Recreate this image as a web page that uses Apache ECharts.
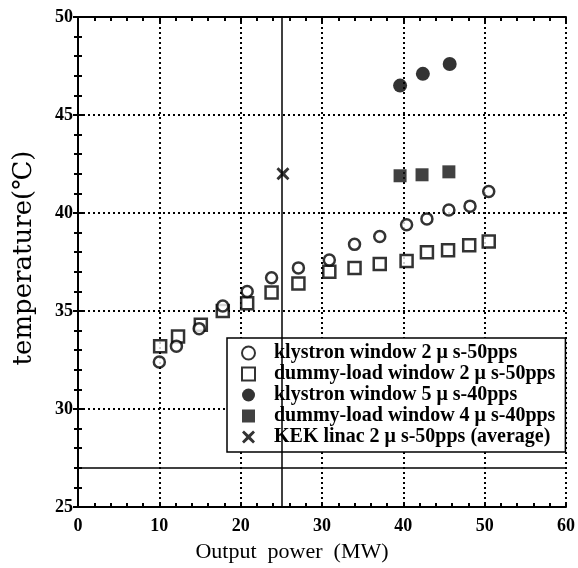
<!DOCTYPE html>
<html>
<head>
<meta charset="utf-8">
<script src="https://cdn.jsdelivr.net/npm/echarts@6/dist/echarts.min.js"></script>
<style>
  html, body { margin: 0; padding: 0; background: #fff; }
  #chart { width: 578px; height: 568px; }
</style>
</head>
<body>
<div id="chart"></div>
<script>
// klystron window 2us-50pps (open circles)
var k2x = [10.0, 12.1, 14.9, 17.8, 20.8, 23.8, 27.1, 30.9, 34.0, 37.1, 40.4, 42.9, 45.6, 48.2, 50.5]
var k2y = [32.4, 33.2, 34.1, 35.25, 36.0, 36.7, 37.2, 37.6, 38.4, 38.8, 39.4, 39.7, 40.15, 40.35, 41.1]
// dummy-load window 2us-50pps (open squares)
var d2x = [10.1, 12.3, 15.1, 17.8, 20.8, 23.8, 27.1, 30.9, 34.0, 37.1, 40.4, 42.9, 45.5, 48.1, 50.5]
var d2y = [33.2, 33.7, 34.3, 35.0, 35.4, 35.95, 36.4, 37.0, 37.2, 37.4, 37.55, 38.0, 38.1, 38.35, 38.55]
// klystron window 5us-40pps (filled circles)
var k5x = [39.6, 42.4, 45.7]
var k5y = [46.5, 47.1, 47.6]
// dummy-load window 4us-40pps (filled squares)
var d4x = [39.6, 42.3, 45.6]
var d4y = [41.9, 41.95, 42.1]
// KEK linac average
var kekX = [25.2]
var kekY = [42.0]
// solid reference lines
var refX = 25
var refY = 27

var names = [
  'klystron window 2 μ s-50pps',
  'dummy-load window 2 μ s-50pps',
  'klystron window 5 μ s-40pps',
  'dummy-load window 4 μ s-40pps',
  'KEK linac 2 μ s-50pps (average)'
]

function pairs(xs, ys) {
  return xs.map(function (x, i) { return [x, ys[i]] })
}

var serif = 'Liberation Serif, Times New Roman, serif'
var crossPath = 'path://M1.5,0 L5,3.3 L8.5,0 L10,1.5 L6.7,5 L10,8.5 L8.5,10 L5,6.7 L1.5,10 L0,8.5 L3.3,5 L0,1.5 Z'

var chart = echarts.init(document.getElementById('chart'))

var baseX = {
  type: 'value', min: 0, max: 60, interval: 10,
  axisLine: { show: true, lineStyle: { color: '#000', width: 2 } },
  axisTick: { show: true, inside: true, length: 5, lineStyle: { color: '#000', width: 2 } },
  minorTick: { show: true, splitNumber: 5, length: 4, lineStyle: { color: '#000', width: 2 } },
  splitLine: { show: false },
  axisLabel: { show: false }
}
var baseY = {
  type: 'value', min: 25, max: 50, interval: 5,
  axisLine: { show: true, lineStyle: { color: '#000', width: 2 } },
  axisTick: { show: true, inside: true, length: 5, lineStyle: { color: '#000', width: 2 } },
  minorTick: { show: true, splitNumber: 5, length: 4, lineStyle: { color: '#000', width: 2 } },
  splitLine: { show: false },
  axisLabel: { show: false }
}

var option = {
  backgroundColor: '#fff',
  animation: false,
  grid: { left: 78, right: 9, top: 17, bottom: 61 },
  legend: {
    orient: 'vertical',
    left: 227, top: 338,
    padding: [5, 10, 5, 14],
    itemGap: 1,
    itemWidth: 13, itemHeight: 13,
    backgroundColor: '#fff',
    borderColor: '#000', borderWidth: 1.5,
    textStyle: { fontFamily: serif, fontSize: 20, fontWeight: 'bold', color: '#000', padding: [0, 0, 0, 14] },
    data: names
  },
  xAxis: [
    Object.assign({}, baseX, {
      position: 'bottom',
      name: 'Output  power  (MW)',
      nameLocation: 'middle',
      nameGap: 34,
      nameTextStyle: { fontFamily: serif, fontSize: 22, color: '#000', padding: [0, 60, 0, 0] },
      splitLine: { show: true, lineStyle: { color: '#000', width: 2, type: [2, 3] } },
      axisLabel: { show: true, fontFamily: serif, fontSize: 18, fontWeight: 'bold', color: '#000', margin: 10 }
    }),
    Object.assign({}, baseX, { position: 'top' })
  ],
  yAxis: [
    Object.assign({}, baseY, {
      position: 'left',
      name: 'temperature(℃)',
      nameLocation: 'middle',
      nameGap: 41,
      nameTextStyle: { fontFamily: 'DejaVu Serif, serif', fontSize: 26, color: '#000', padding: [0, 0, 0, 8] },
      splitLine: { show: true, lineStyle: { color: '#000', width: 2, type: [2, 3] } },
      axisLabel: { show: true, fontFamily: serif, fontSize: 18, fontWeight: 'bold', color: '#000', margin: 5 }
    }),
    Object.assign({}, baseY, { position: 'right' })
  ],
  series: [
    {
      name: names[1], type: 'scatter', symbol: 'rect', symbolSize: 12,
      itemStyle: { color: '#fff', borderColor: '#000', borderWidth: 2.5 },
      data: pairs(d2x, d2y)
    },
    {
      name: names[0], type: 'scatter', symbol: 'circle', symbolSize: 11,
      itemStyle: { color: '#fff', borderColor: '#000', borderWidth: 2.5 },
      data: pairs(k2x, k2y)
    },
    {
      name: names[2], type: 'scatter', symbol: 'circle', symbolSize: 14,
      itemStyle: { color: '#000' },
      data: pairs(k5x, k5y)
    },
    {
      name: names[3], type: 'scatter', symbol: 'rect', symbolSize: 13,
      itemStyle: { color: '#111' },
      data: pairs(d4x, d4y)
    },
    {
      name: names[4], type: 'scatter', symbol: crossPath, symbolSize: 13,
      itemStyle: { color: '#000' },
      data: pairs(kekX, kekY),
      markLine: {
        silent: true, symbol: ['none', 'none'], label: { show: false },
        lineStyle: { color: '#000', width: 1.5, type: 'solid' },
        data: [{ xAxis: refX }, { yAxis: refY }]
      }
    }
  ]
}

chart.setOption(option)
</script>
</body>
</html>
